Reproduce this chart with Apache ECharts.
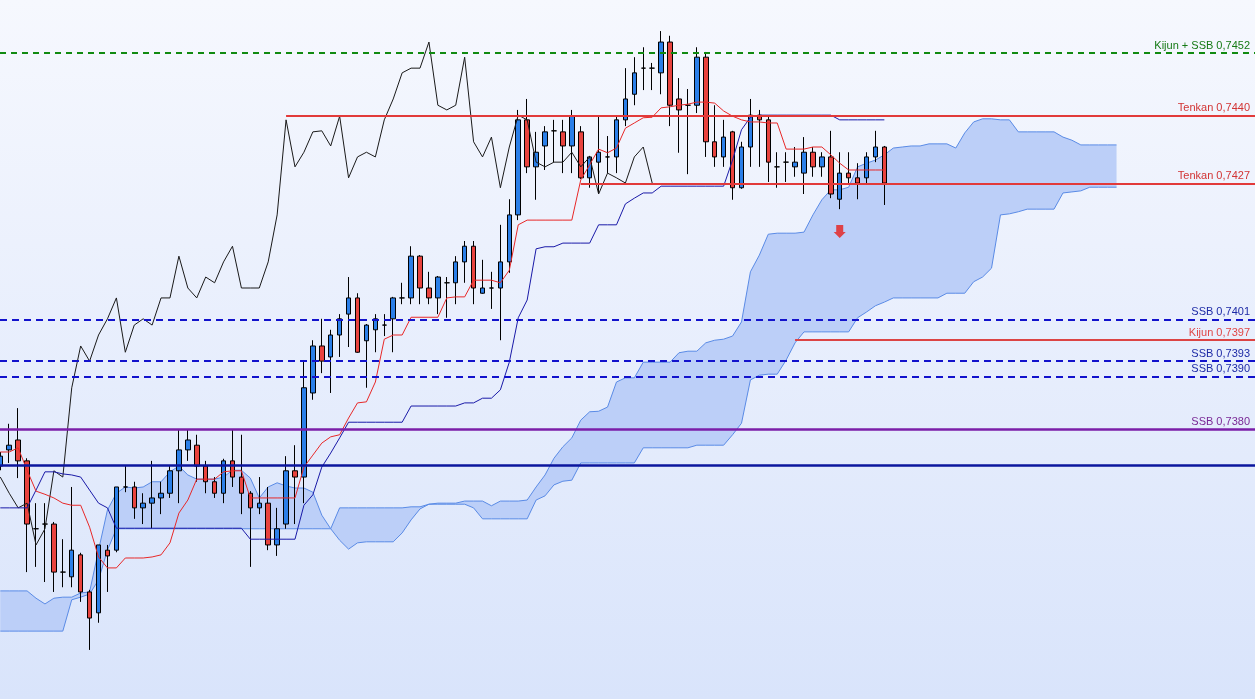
<!DOCTYPE html>
<html><head><meta charset="utf-8">
<script src="https://cdn.jsdelivr.net/npm/echarts/dist/echarts.min.js"></script>
<style>html,body{margin:0;padding:0;width:1255px;height:699px;overflow:hidden}#c{width:1255px;height:699px}</style>
</head><body><div id="c"></div><script>
// candles: [open, close, low, high], one per period (index = period number)
const candles = [
[0.73729,0.73748,0.73721,0.73756],[0.73760,0.73769,0.73735,0.73810],[0.73779,0.73739,0.73706,0.73840],[0.73739,0.73618,0.73526,0.73744],
[0.73609,0.73609,0.73536,0.73658],[0.73618,0.73618,0.73507,0.73658],[0.73618,0.73526,0.73488,0.73622],[0.73526,0.73526,0.73497,0.73589],
[0.73517,0.73568,0.73497,0.73689],[0.73559,0.73488,0.73469,0.73563],[0.73488,0.73438,0.73377,0.73492],[0.73448,0.73578,0.73429,0.73578],
[0.73568,0.73557,0.73488,0.73578],[0.73568,0.73689,0.73564,0.73689],[0.73689,0.73689,0.73679,0.73729],[0.73689,0.73649,0.73628,0.73699],
[0.73649,0.73658,0.73618,0.73677],[0.73658,0.73668,0.73610,0.73739],[0.73668,0.73677,0.73637,0.73699],[0.73677,0.73720,0.73668,0.73729],
[0.73720,0.73760,0.73658,0.73800],[0.73760,0.73779,0.73739,0.73800],[0.73769,0.73729,0.73699,0.73789],[0.73729,0.73699,0.73677,0.73739],
[0.73699,0.73677,0.73668,0.73708],[0.73677,0.73739,0.73658,0.73743],[0.73739,0.73708,0.73689,0.73800],[0.73708,0.73677,0.73637,0.73789],
[0.73677,0.73649,0.73536,0.73681],[0.73649,0.73658,0.73637,0.73708],[0.73658,0.73578,0.73568,0.73689],[0.73578,0.73609,0.73557,0.73649],
[0.73618,0.73720,0.73609,0.73748],[0.73720,0.73708,0.73618,0.73769],[0.73708,0.73879,0.73658,0.73932],[0.73869,0.73959,0.73856,0.73970],
[0.73959,0.73930,0.73907,0.74011],[0.73938,0.73980,0.73869,0.73990],[0.73980,0.74011,0.73938,0.74020],[0.74020,0.74051,0.73957,0.74091],
[0.74051,0.73947,0.73946,0.74060],[0.73969,0.73999,0.73879,0.74001],[0.73990,0.74011,0.73947,0.74020],[0.73999,0.73999,0.73978,0.74020],
[0.74011,0.74051,0.73947,0.74053],[0.74051,0.74051,0.74039,0.74080],[0.74051,0.74131,0.74039,0.74150],[0.74131,0.74070,0.74039,0.74133],
[0.74070,0.74051,0.74039,0.74101],[0.74051,0.74091,0.74020,0.74093],[0.74080,0.74080,0.74013,0.74091],[0.74080,0.74120,0.74039,0.74131],
[0.74120,0.74150,0.74080,0.74160],[0.74150,0.74070,0.74039,0.74160],[0.74060,0.74070,0.74059,0.74124],[0.74070,0.74070,0.74030,0.74101],
[0.74070,0.74120,0.73970,0.74191],[0.74120,0.74210,0.74099,0.74240],[0.74210,0.74392,0.74200,0.74411],[0.74392,0.74302,0.74290,0.74432],
[0.74302,0.74330,0.74239,0.74369],[0.74342,0.74369,0.74296,0.74380],[0.74371,0.74371,0.74311,0.74392],[0.74369,0.74342,0.74290,0.74392],
[0.74342,0.74399,0.74290,0.74411],[0.74369,0.74281,0.74279,0.74380],[0.74281,0.74321,0.74262,0.74323],[0.74311,0.74330,0.74252,0.74399],
[0.74321,0.74321,0.74290,0.74361],[0.74321,0.74392,0.74290,0.74399],[0.74392,0.74432,0.74380,0.74491],[0.74441,0.74482,0.74420,0.74512],
[0.74491,0.74491,0.74449,0.74531],[0.74491,0.74491,0.74449,0.74501],[0.74482,0.74541,0.74441,0.74562],[0.74541,0.74420,0.74380,0.74553],
[0.74432,0.74411,0.74329,0.74472],[0.74420,0.74420,0.74288,0.74451],[0.74420,0.74512,0.74405,0.74531],[0.74512,0.74350,0.74321,0.74522],
[0.74350,0.74321,0.74302,0.74420],[0.74321,0.74359,0.74302,0.74392],[0.74369,0.74262,0.74239,0.74371],[0.74262,0.74340,0.74260,0.74350],
[0.74340,0.74401,0.74302,0.74432],[0.74401,0.74392,0.74302,0.74411],[0.74392,0.74311,0.74273,0.74401],[0.74302,0.74302,0.74262,0.74330],
[0.74311,0.74311,0.74273,0.74330],[0.74302,0.74311,0.74283,0.74340],[0.74290,0.74330,0.74250,0.74359],[0.74330,0.74302,0.74283,0.74340],
[0.74302,0.74321,0.74283,0.74330],[0.74321,0.74250,0.74242,0.74371],[0.74240,0.74290,0.74221,0.74330],[0.74290,0.74281,0.74271,0.74330],
[0.74281,0.74271,0.74240,0.74309],[0.74281,0.74321,0.74271,0.74330],[0.74321,0.74340,0.74311,0.74371],[0.74340,0.74271,0.74229,0.74342]
];

const tenkan = [
0.73756,0.73756,0.73764,0.73721,0.73681,0.73675,0.73668,0.73658,0.73654,0.73654,
0.73612,0.73555,0.73534,0.73534,0.73553,0.73553,0.73553,0.73555,0.73559,0.73582,
0.73639,0.73664,0.73704,0.73704,0.73704,0.73718,0.73720,0.73720,0.73668,0.73668,
0.73668,0.73668,0.73668,0.73668,0.73727,0.73750,0.73773,0.73785,0.73789,0.73821,
0.73850,0.73852,0.73890,0.73972,0.73980,0.73980,0.74014,0.74014,0.74014,0.74014,
0.74051,0.74053,0.74053,0.74085,0.74085,0.74085,0.74080,0.74104,0.74191,0.74200,
0.74200,0.74200,0.74200,0.74200,0.74200,0.74277,0.74306,0.74336,0.74329,0.74338,
0.74376,0.74386,0.74396,0.74397,0.74415,0.74417,0.74420,0.74422,0.74426,0.74426,
0.74424,0.74409,0.74399,0.74392,0.74388,0.74388,0.74386,0.74386,0.74336,0.74336,
0.74336,0.74340,0.74340,0.74325,0.74309,0.74296,0.74296,0.74296,0.74296,0.74296];

const kijun = [
0.73649,0.73649,0.73649,0.73649,0.73683,0.73718,0.73718,0.73714,0.73712,0.73708,
0.73683,0.73658,0.73649,0.73610,0.73610,0.73610,0.73610,0.73610,0.73610,0.73610,
0.73610,0.73610,0.73610,0.73610,0.73610,0.73610,0.73610,0.73610,0.73589,0.73589,
0.73589,0.73589,0.73589,0.73589,0.73654,0.73674,0.73727,0.73754,0.73783,0.73813,
0.73813,0.73813,0.73813,0.73813,0.73813,0.73813,0.73844,0.73844,0.73844,0.73844,
0.73844,0.73844,0.73850,0.73850,0.73859,0.73859,0.73875,0.73928,0.74013,0.74047,
0.74145,0.74149,0.74149,0.74156,0.74156,0.74156,0.74156,0.74191,0.74191,0.74191,
0.74231,0.74242,0.74252,0.74252,0.74265,0.74265,0.74265,0.74265,0.74265,0.74265,
0.74265,0.74265,0.74315,0.74373,0.74397,0.74401,0.74401,0.74401,0.74401,0.74401,
0.74401,0.74401,0.74401,0.74401,0.74392,0.74392,0.74392,0.74392,0.74392,0.74392];

// lagging span, plotted from period 0
const chikou = [
0.73708,0.73677,0.73649,0.73658,0.73578,0.73609,0.73720,0.73708,0.73879,0.73959,
0.73930,0.73980,0.74011,0.74051,0.73947,0.73999,0.74011,0.73999,0.74051,0.74051,
0.74131,0.74070,0.74051,0.74091,0.74080,0.74120,0.74150,0.74070,0.74070,0.74070,
0.74120,0.74210,0.74392,0.74302,0.74330,0.74369,0.74371,0.74342,0.74399,0.74281,
0.74321,0.74330,0.74321,0.74392,0.74432,0.74482,0.74491,0.74491,0.74541,0.74420,
0.74411,0.74420,0.74512,0.74350,0.74321,0.74359,0.74262,0.74340,0.74401,0.74392,
0.74311,0.74302,0.74311,0.74311,0.74330,0.74302,0.74321,0.74250,0.74290,0.74281,
0.74271,0.74321,0.74340,0.74271];

// cloud edges, periods 0..125
const cloudUpper = [
0.73490,0.73490,0.73490,0.73490,0.73476,0.73465,0.73476,0.73478,0.73478,0.73486,
0.73488,0.73568,0.73645,0.73677,0.73689,0.73687,0.73689,0.73699,0.73699,0.73718,
0.73729,0.73712,0.73704,0.73704,0.73704,0.73708,0.73721,0.73721,0.73706,0.73668,
0.73689,0.73697,0.73691,0.73687,0.73687,0.73679,0.73635,0.73609,0.73649,0.73649,
0.73649,0.73649,0.73649,0.73649,0.73649,0.73649,0.73651,0.73651,0.73656,0.73658,
0.73658,0.73658,0.73662,0.73662,0.73662,0.73653,0.73662,0.73662,0.73662,0.73664,
0.73689,0.73712,0.73744,0.73766,0.73783,0.73817,0.73833,0.73834,0.73842,0.73890,
0.73898,0.73898,0.73928,0.73928,0.73928,0.73928,0.73946,0.73949,0.73949,0.73965,
0.73970,0.73972,0.73978,0.74005,0.74101,0.74133,0.74173,0.74175,0.74175,0.74175,
0.74177,0.74210,0.74239,0.74258,0.74258,0.74263,0.74302,0.74309,0.74315,0.74325,
0.74338,0.74340,0.74342,0.74342,0.74346,0.74346,0.74346,0.74338,0.74367,0.74388,
0.74394,0.74394,0.74392,0.74392,0.74369,0.74369,0.74369,0.74369,0.74369,0.74359,
0.74353,0.74344,0.74344,0.74344,0.74344,0.74344];
const cloudLower = [
0.73413,0.73413,0.73413,0.73413,0.73413,0.73413,0.73413,0.73413,0.73473,0.73478,
0.73484,0.73511,0.73568,0.73609,0.73609,0.73609,0.73609,0.73609,0.73609,0.73609,
0.73609,0.73609,0.73609,0.73609,0.73609,0.73609,0.73609,0.73609,0.73609,0.73609,
0.73609,0.73609,0.73609,0.73609,0.73609,0.73609,0.73609,0.73609,0.73587,0.73570,
0.73582,0.73584,0.73584,0.73584,0.73584,0.73601,0.73626,0.73647,0.73656,0.73656,
0.73656,0.73656,0.73656,0.73649,0.73628,0.73628,0.73628,0.73628,0.73628,0.73628,
0.73664,0.73672,0.73693,0.73700,0.73702,0.73735,0.73735,0.73735,0.73735,0.73735,
0.73735,0.73735,0.73764,0.73764,0.73764,0.73764,0.73764,0.73764,0.73769,0.73769,
0.73769,0.73769,0.73789,0.73811,0.73894,0.73903,0.73905,0.73905,0.73932,0.73965,
0.73986,0.73986,0.73986,0.73986,0.73986,0.73986,0.74013,0.74024,0.74036,0.74043,
0.74051,0.74051,0.74051,0.74051,0.74051,0.74051,0.74060,0.74060,0.74060,0.74082,
0.74091,0.74108,0.74210,0.74212,0.74216,0.74221,0.74221,0.74221,0.74221,0.74252,
0.74254,0.74256,0.74263,0.74263,0.74263,0.74263];

// horizontal levels
const levelValues = [0.7452, 0.7440, 0.7427, 0.7401, 0.7397, 0.7393, 0.7390, 0.7380, 0.7373];
const levelLabels = ['Kijun + SSB 0,7452','Tenkan 0,7440','Tenkan 0,7427','SSB 0,7401','Kijun 0,7397','SSB 0,7393','SSB 0,7390','SSB 0,7380',''];
const levelStarts = [null, 32, 65, null, 89, null, null, null, null];

// sell signal arrow [period, price]
const signals = [[94, 0.74178]];

// ---- styles ----
const X_MIN = -0.034, X_MAX = 140.504;
const Y_MIN = 0.73283, Y_MAX = 0.746215;
const levelStyles = [
  {c:'#118a11', t:'#157a15', type:[6,5], w:2},
  {c:'#e23a3a', t:'#d23434', type:'solid', w:2},
  {c:'#e23a3a', t:'#d23434', type:'solid', w:2},
  {c:'#1212cc', t:'#1d2aa6', type:[7,5], w:2},
  {c:'#dc4444', t:'#e04646', type:'solid', w:2},
  {c:'#1212cc', t:'#1d2aa6', type:[7,5], w:2},
  {c:'#1212cc', t:'#1d2aa6', type:[7,5], w:2},
  {c:'#7b1ea8', t:'#7a2896', type:'solid', w:2.5},
  {c:'#0b169e', t:'#0b169e', type:'solid', w:2.5}
];

const markData = levelValues.map(function (v, k) {
  const s = levelStyles[k];
  const lineStyle = {color: s.c, type: s.type, width: s.w};
  const label = {show: !!levelLabels[k], formatter: levelLabels[k], color: s.t,
    position: 'insideEndTop', fontSize: 11, fontFamily: 'Liberation Sans, Arial, sans-serif', distance: [5, 2]};
  const start = levelStarts[k] == null ? X_MIN : levelStarts[k];
  return [{coord: [start, v], lineStyle: lineStyle, label: label}, {coord: [X_MAX, v]}];
});

const idx = function (arr) { return arr.map(function (v, i) { return [i, v]; }); };

const chart = echarts.init(document.getElementById('c'), null, {renderer: 'canvas'});
chart.setOption({
  animation: false,
  backgroundColor: {type: 'linear', x: 0, y: 0, x2: 0, y2: 1,
    colorStops: [{offset: 0, color: '#f6f8fe'}, {offset: 1, color: '#d9e4fb'}]},
  grid: {left: 0, right: 0, top: 0, bottom: 0, containLabel: false},
  xAxis: {type: 'value', min: X_MIN, max: X_MAX, show: false, splitLine: {show: false}},
  yAxis: {type: 'value', min: Y_MIN, max: Y_MAX, show: false, splitLine: {show: false}, scale: true},
  series: [
    {
      type: 'custom', name: 'cloud', z: 1, silent: true, clip: true,
      data: [[0, cloudUpper[0]]],
      renderItem: function (params, api) {
        const pts = [];
        for (let i = 0; i < cloudUpper.length; i++) pts.push(api.coord([i, cloudUpper[i]]));
        for (let i = cloudLower.length - 1; i >= 0; i--) pts.push(api.coord([i, cloudLower[i]]));
        return {type: 'polygon', shape: {points: pts}, style: {fill: '#bccff8'}};
      }
    },
    {type: 'line', name: 'cloudUpper', z: 2, data: idx(cloudUpper), symbol: 'none', silent: true,
      lineStyle: {color: '#5a8be6', width: 1}},
    {type: 'line', name: 'cloudLower', z: 2, data: idx(cloudLower), symbol: 'none', silent: true,
      lineStyle: {color: '#5a8be6', width: 1}},
    {
      type: 'candlestick', name: 'price', z: 3, barWidth: 5,
      data: candles.map(function (c, i) { return [i, c[0], c[1], c[2], c[3]]; }),
      itemStyle: {color: '#2b7fe8', color0: '#e8433e', borderColor: '#000', borderColor0: '#000', borderWidth: 1}
    },
    {type: 'line', name: 'chikou', z: 4, data: idx(chikou), symbol: 'none', silent: true,
      lineStyle: {color: '#1a1a1a', width: 1}},
    {type: 'line', name: 'kijun', z: 4, data: idx(kijun), symbol: 'none', silent: true,
      lineStyle: {color: '#1a1aa8', width: 1}},
    {type: 'line', name: 'tenkan', z: 4, data: idx(tenkan), symbol: 'none', silent: true,
      lineStyle: {color: '#e82828', width: 1}},
    {type: 'line', name: 'levels', z: 5, data: [], symbol: 'none', silent: true,
      markLine: {silent: true, symbol: ['none', 'none'], animation: false, data: markData}},
    {type: 'scatter', name: 'signal', z: 6, data: signals, silent: true,
      symbol: 'path://M2.5,0 L9.5,0 L9.5,7 L12,7 L6,13 L0,7 L2.5,7 Z', symbolSize: [12, 13],
      itemStyle: {color: '#e61e1a'}}
  ]
});
</script></body></html>
